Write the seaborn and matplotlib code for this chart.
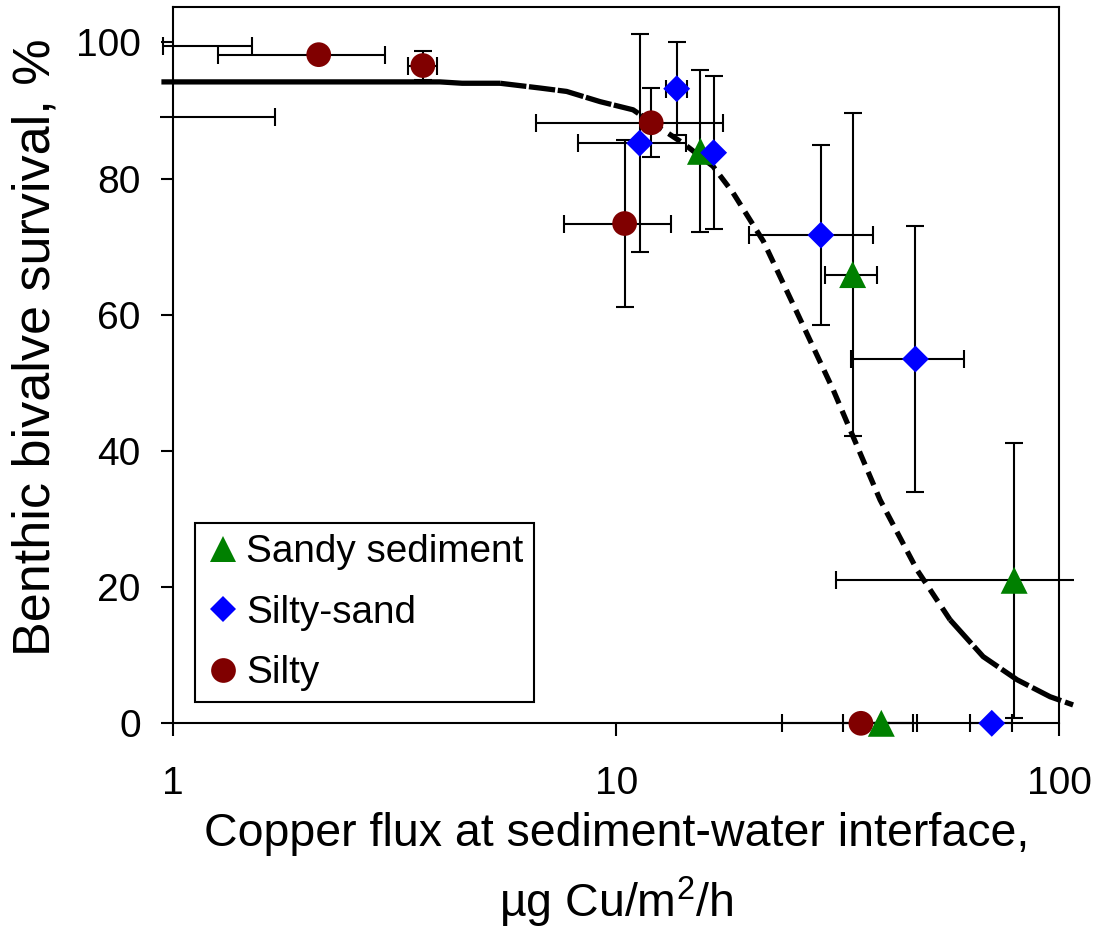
import numpy as np
import pandas as pd
import matplotlib
matplotlib.use("Agg")
import matplotlib.pyplot as plt
from matplotlib.patches import Rectangle
from matplotlib.lines import Line2D
from matplotlib.ticker import FixedLocator, FixedFormatter, NullLocator
import seaborn as sns

# ---------------- data ----------------
sandy_x    = [15.5, 34.2, 79.2, 39.7]
sandy_y    = [84.0, 65.9, 21.0, 0.0]
sandy_xerr = [0.0, 4.6, 47.9, 7.2]
sandy_yerr = [11.9, 23.7, 20.2, 0.0]

siltysand_x    = [13.7, 11.3, 16.6, 29.0, 47.4, 70.5]
siltysand_y    = [93.2, 85.2, 83.8, 71.7, 53.5, 0.0]
siltysand_xerr = [0.72, 3.1, 0.0, 9.0, 13.5, 7.7]
siltysand_yerr = [6.85, 16.0, 11.25, 13.2, 19.5, 0.0]

silty_x    = [2.13, 3.66, 12.0, 10.45, 35.7]
silty_y    = [98.2, 96.6, 88.2, 73.4, 0.0]
silty_xerr = [0.87, 0.27, 5.4, 2.84, 12.0]
silty_yerr = [0.0, 2.1, 5.1, 12.2, 0.0]

# error bars drawn without a visible marker
unmarked_x    = [1.226, 0.85]
unmarked_y    = [99.4, 89.1]
unmarked_xerr = [0.28, 0.847]

# fitted survival curve
curve_x = [0.94, 2.0, 3.0, 4.0, 4.49, 5.47, 6.73, 7.73, 9.20, 10.92, 11.93,
           14.16, 16.55, 18.37, 21.5, 25.62, 30.90, 34.28, 39.45, 47.83,
           56.76, 67.4, 80.4, 95.5, 107.6]
curve_y = [94.2, 94.2, 94.2, 94.2, 94.0, 94.0, 93.3, 92.8, 91.3, 90.1, 88.4,
           85.2, 81.8, 77.9, 70.8, 60.3, 49.0, 42.1, 32.8, 22.5,
           15.2, 9.8, 6.4, 3.9, 2.7]

x_ticks = [1, 10, 100]
x_tick_labels = ["1", "10", "100"]
y_ticks = [0, 20, 40, 60, 80, 100]

series_names = ["Sandy sediment", "Silty-sand", "Silty"]
colors = {"Sandy sediment": "#008000", "Silty-sand": "#0000FF", "Silty": "#800000"}
markers = {"Sandy sediment": "^", "Silty-sand": "D", "Silty": "o"}
msizes = {"Sandy sediment": 19.4, "Silty-sand": 13.7, "Silty": 17.8}

xlabel_line1 = "Copper flux at sediment-water interface,"
xlabel_line2 = "µg Cu/m$^{2}$/h"
ylabel_text = "Benthic bivalve survival, %"

# ---------------- figure ----------------
sns.set_theme(style="white")
plt.rcParams["font.family"] = ["Liberation Sans", "DejaVu Sans"]
plt.rcParams["text.color"] = "black"
plt.rcParams["mathtext.fontset"] = "custom"
plt.rcParams["mathtext.rm"] = "Liberation Sans"
plt.rcParams["mathtext.default"] = "regular"

W, H = 1100, 932
fig = plt.figure(figsize=(W / 100, H / 100), dpi=100)
ax_l, ax_r, ax_t, ax_b = 173.3, 1059.0, 7.0, 723.3
ax = fig.add_axes([ax_l / W, 1 - ax_b / H, (ax_r - ax_l) / W, (ax_b - ax_t) / H])
ax.set_xscale("log")
ax.set_xlim(1, 100)
ax.set_ylim(0, 105.2)

# clip region: chart area slightly wider than the plot frame
aw = ax_r - ax_l
ah = ax_b - ax_t
clip_rect = Rectangle(((160 - ax_l) / aw, -0.1), (1074 - 160) / aw, 1.2,
                      transform=ax.transAxes)

def clip(artists):
    for a in artists:
        a.set_clip_path(clip_rect)

# curve with varying dash look
pieces = [(0, 5, "-"), (5, 10, (0, (5, 0.5))), (10, 20, (0, (2.7, 1.5))),
          (20, len(curve_x) - 1, (0, (6, 0.8)))]
for i0, i1, ls in pieces:
    ln, = ax.plot(curve_x[i0:i1 + 1], curve_y[i0:i1 + 1], color="black",
                  lw=3.8, linestyle=ls, solid_capstyle="butt",
                  dash_capstyle="butt", zorder=2)
    clip([ln])

eb_kw = dict(fmt="none", ecolor="black", elinewidth=1.5, capsize=6.5,
             capthick=1.5, zorder=2.2)
for xs, ys, xe, ye in [(silty_x, silty_y, silty_xerr, silty_yerr),
                       (sandy_x, sandy_y, sandy_xerr, sandy_yerr),
                       (siltysand_x, siltysand_y, siltysand_xerr, siltysand_yerr)]:
    cont = ax.errorbar(xs, ys, xerr=xe, yerr=ye, **eb_kw)
    clip(cont.get_children())
cont = ax.errorbar(unmarked_x, unmarked_y, xerr=unmarked_xerr, **eb_kw)
clip(cont.get_children())

# markers (silty drawn first, silty-sand on top)
data = {"Sandy sediment": (sandy_x, sandy_y),
        "Silty-sand": (siltysand_x, siltysand_y),
        "Silty": (silty_x, silty_y)}
for name in ["Silty", "Sandy sediment", "Silty-sand"]:
    xs, ys = data[name]
    df = pd.DataFrame({"x": xs, "y": ys})
    sns.scatterplot(data=df, x="x", y="y", ax=ax, marker=markers[name],
                    color=colors[name], s=msizes[name] ** 2, edgecolor="none",
                    linewidth=0, clip_on=False, zorder=4, legend=False)

# axes styling
for sp in ax.spines.values():
    sp.set_visible(True)
    sp.set_color("black")
    sp.set_linewidth(1.5)
    sp.set_zorder(3)
ax.xaxis.set_major_locator(FixedLocator(x_ticks))
ax.xaxis.set_major_formatter(FixedFormatter(x_tick_labels))
ax.xaxis.set_minor_locator(NullLocator())
ax.yaxis.set_major_locator(FixedLocator(y_ticks))
ax.tick_params(axis="both", which="major", direction="out", length=9,
               width=1.5, color="black", labelsize=28, labelcolor="black")
ax.tick_params(axis="x", pad=22, bottom=True)
ax.tick_params(axis="y", pad=14.4, left=True)
ax.grid(False)

ax.set_xlabel(xlabel_line1, fontsize=33.5, color="black")
ax.xaxis.set_label_coords(0.5, -(812 - ax_b) / ah)
ax.text(0.5, -(917 - ax_b) / ah, xlabel_line2, transform=ax.transAxes,
        ha="center", va="baseline", fontsize=33.5, color="black")
ax.set_ylabel(ylabel_text, fontsize=37.5, color="black")
ax.yaxis.set_label_coords((61 - ax_l) / aw, (ax_b - 347.5) / ah)

handles = [Line2D([], [], linestyle="none", marker=markers[n],
                  markersize=msizes[n], markerfacecolor=colors[n],
                  markeredgewidth=0, color=colors[n]) for n in series_names]
leg = ax.legend(handles, series_names,
                loc="lower left",
                bbox_to_anchor=((195 - ax_l) / aw, (ax_b - 702) / ah),
                borderaxespad=0, frameon=True, fancybox=False, framealpha=1,
                edgecolor="black", fontsize=27.9, handlelength=0.89,
                handletextpad=0.14, labelspacing=0.63, borderpad=0.28,
                labelcolor="black")
leg.get_frame().set_linewidth(1.5)
leg.set_zorder(5)

fig.savefig("out.png", dpi=100, facecolor="white")
